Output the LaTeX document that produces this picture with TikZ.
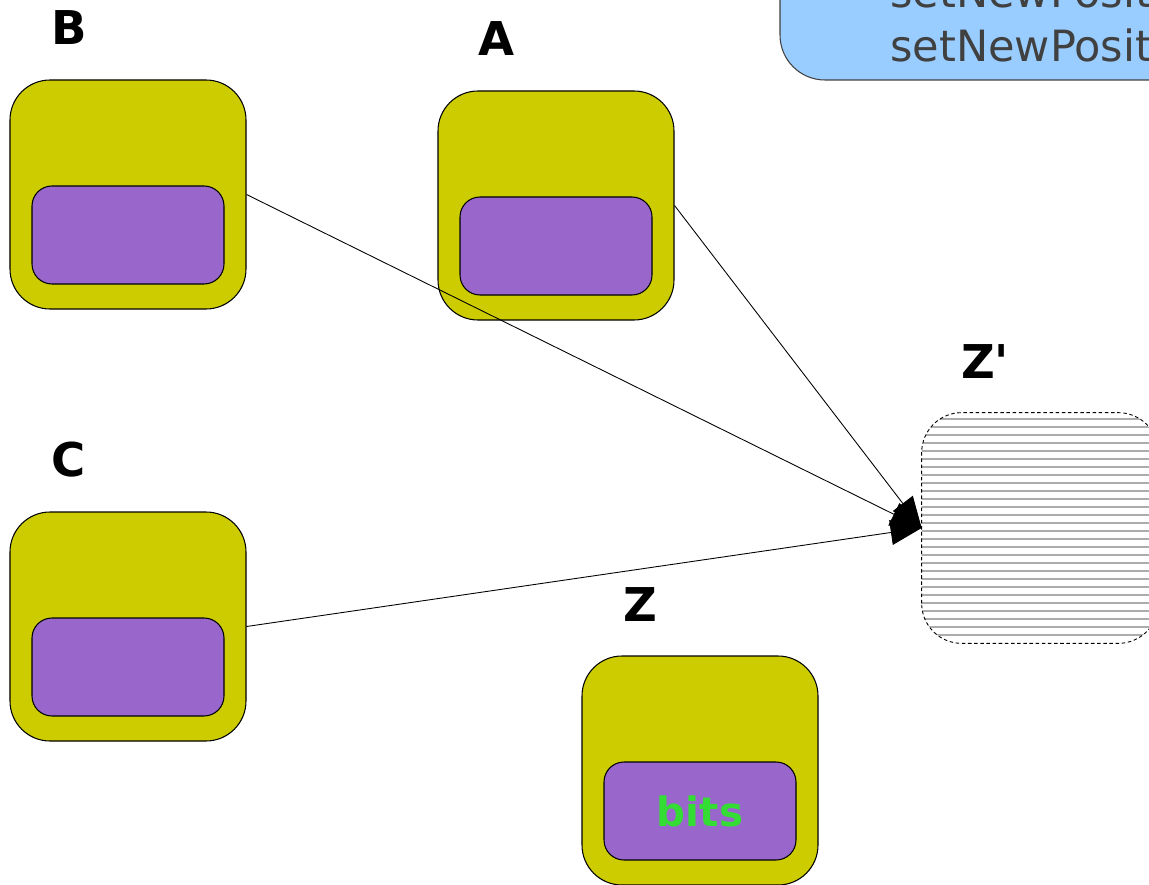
\documentclass[tikz,border=0pt]{standalone}
\usepackage{fontspec}
\setmainfont{DejaVu Sans}
\usetikzlibrary{positioning,arrows.meta}
\definecolor{olive}{RGB}{204,204,0}
\definecolor{lilac}{RGB}{153,102,204}
\definecolor{skyblue}{RGB}{153,204,255}
\definecolor{bitgreen}{RGB}{51,221,51}
\definecolor{notegray}{RGB}{64,64,64}

\begin{document}
\begin{tikzpicture}[
    outerbox/.style={rectangle, rounded corners=0.8cm, fill=olive, draw=black, line width=0.6pt, minimum width=4.72cm, minimum height=4.58cm},
    innerbox/.style={rectangle, rounded corners=0.4cm, fill=lilac, draw=black, line width=0.6pt, minimum width=3.84cm, minimum height=1.96cm},
    tag/.style={font=\bfseries\fontsize{26.5}{30}\selectfont, anchor=base, inner sep=0pt},
    link/.style={-{Triangle[length=0.62cm,width=0.5cm]}, line width=0.5pt}
  ]
  \useasboundingbox (0,0) rectangle (22.98,-17.7);
  \clip (0,0) rectangle (22.98,-17.7);

  \node[rectangle, rounded corners=0.9cm, fill=skyblue, draw=notegray, line width=0.6pt, minimum width=8.4cm, minimum height=2.8cm] (note) at (19.8,-0.2) {};
  \node[anchor=base west, inner sep=0pt, text=notegray, font=\fontsize{24.5}{28}\selectfont] (note1) at (17.8,-0.16) {setNewPosit};
  \node[anchor=base west, inner sep=0pt, text=notegray, font=\fontsize{24.5}{28}\selectfont] (note2) at (17.8,-1.24) {setNewPosit};

  \node[outerbox] (b) at (2.56,-3.89) {};
  \node[innerbox, above=0.5cm of b.south, anchor=south] (bin) {};
  \node[tag] (blabel) at (1.38,-0.9) {B};

  \node[outerbox] (a) at (11.12,-4.11) {};
  \node[innerbox, above=0.5cm of a.south, anchor=south] (ain) {};
  \node[tag] (alabel) at (9.94,-1.12) {A};

  \node[outerbox] (c) at (2.56,-12.53) {};
  \node[innerbox, above=0.5cm of c.south, anchor=south] (cin) {};
  \node[tag] (clabel) at (1.38,-9.52) {C};

  \node[outerbox] (z) at (14.0,-15.41) {};
  \node[innerbox, above=0.5cm of z.south, anchor=south, text=bitgreen, font=\bfseries\fontsize{23}{28}\selectfont] (zin) {bits};
  \node[tag] (zlabel) at (12.8,-12.42) {Z};

  \node[rectangle, rounded corners=0.8cm, minimum width=4.72cm, minimum height=4.6cm] (zp) at (20.8,-10.56) {};
  \begin{scope}
    \clip[rounded corners=0.8cm] (zp.south west) rectangle (zp.north east);
    \foreach \y in {0.12,0.28,...,4.6}
      \draw[gray!65, line width=1.1pt] (18.4,-8.26-\y) -- (23.2,-8.26-\y);
  \end{scope}
  \draw[rounded corners=0.8cm, dash pattern=on 2pt off 1.5pt, line width=0.5pt] (zp.south west) rectangle (zp.north east);
  \node[tag] (zplabel) at (19.7,-7.56) {Z\textquotesingle};

  \draw[link] (b.east) -- (zp.west);
  \draw[link] (a.east) -- (zp.west);
  \draw[link] (c.east) -- (zp.west);
\end{tikzpicture}
\end{document}
